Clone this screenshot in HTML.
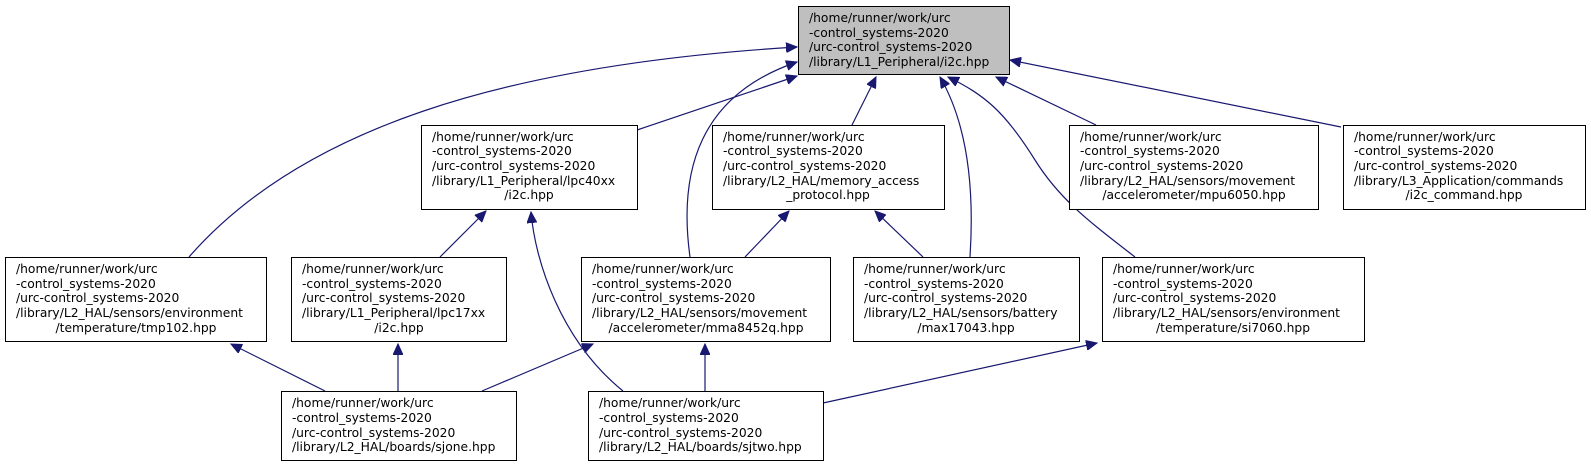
<!DOCTYPE html>
<html><head><meta charset="utf-8"><style>
html,body{margin:0;padding:0;background:#fff;}
svg{display:block;}
text{font-family:"DejaVu Sans","Liberation Sans",sans-serif;font-size:12.3px;fill:#000;}
rect{stroke:#000;stroke-width:1;fill:#fff;}
path{fill:none;stroke:#191970;stroke-width:1.2;}
</style></head><body>
<svg width="1591" height="467" viewBox="0 0 1591 467" xmlns="http://www.w3.org/2000/svg">
<defs>
<marker id="a" markerWidth="12" markerHeight="10" refX="11" refY="5" orient="auto" markerUnits="userSpaceOnUse">
<polygon points="0,0 11,5 0,10" fill="#191970" stroke="#191970"/>
</marker>
</defs>
<!-- edges -->
<g marker-end="url(#a)">
<path d="M189,257 C300,130 500,65 797,47"/>
<path d="M637,130 L797,76"/>
<path d="M690,257 C678,170 700,95 797,62"/>
<path d="M852,125 L876,77"/>
<path d="M970,257 C975,180 965,120 940,77"/>
<path d="M1135,257 C1090,222 1060,200 1035,160 C1005,112 985,95 948,77"/>
<path d="M1096,125 L996,77"/>
<path d="M1341,127 L1010,60"/>
<path d="M440,257 L486,211"/>
<path d="M623,391 C560,340 535,260 531,212"/>
<path d="M745,257 L789,211"/>
<path d="M923,257 L875,211"/>
<path d="M325,391 L231,344"/>
<path d="M398,391 L398,344"/>
<path d="M482,391 L593,344"/>
<path d="M705,391 L705,344"/>
<path d="M823,403 L1097,343"/>
</g>
<!-- root -->
<rect x="798.5" y="6.5" width="211" height="68" style="fill:#bfbfbf"/>
<text x="809" y="22">/home/runner/work/urc</text>
<text x="809" y="37">-control_systems-2020</text>
<text x="809" y="51">/urc-control_systems-2020</text>
<text x="809" y="66">/library/L1_Peripheral/i2c.hpp</text>
<!-- row 2 -->
<rect x="421.5" y="125.5" width="216" height="84"/>
<text x="432" y="141">/home/runner/work/urc</text>
<text x="432" y="155">-control_systems-2020</text>
<text x="432" y="170">/urc-control_systems-2020</text>
<text x="432" y="185">/library/L1_Peripheral/lpc40xx</text>
<text x="529" y="199" text-anchor="middle">/i2c.hpp</text>

<rect x="712.5" y="125.5" width="232" height="84"/>
<text x="723" y="141">/home/runner/work/urc</text>
<text x="723" y="155">-control_systems-2020</text>
<text x="723" y="170">/urc-control_systems-2020</text>
<text x="723" y="185">/library/L2_HAL/memory_access</text>
<text x="828" y="199" text-anchor="middle">_protocol.hpp</text>

<rect x="1069.5" y="125.5" width="249" height="84"/>
<text x="1080" y="141">/home/runner/work/urc</text>
<text x="1080" y="155">-control_systems-2020</text>
<text x="1080" y="170">/urc-control_systems-2020</text>
<text x="1080" y="185">/library/L2_HAL/sensors/movement</text>
<text x="1194" y="199" text-anchor="middle">/accelerometer/mpu6050.hpp</text>

<rect x="1343.5" y="125.5" width="242" height="84"/>
<text x="1354" y="141">/home/runner/work/urc</text>
<text x="1354" y="155">-control_systems-2020</text>
<text x="1354" y="170">/urc-control_systems-2020</text>
<text x="1354" y="185">/library/L3_Application/commands</text>
<text x="1464" y="199" text-anchor="middle">/i2c_command.hpp</text>
<!-- row 3 -->
<rect x="5.5" y="257.5" width="261" height="84"/>
<text x="16" y="273">/home/runner/work/urc</text>
<text x="16" y="288">-control_systems-2020</text>
<text x="16" y="302">/urc-control_systems-2020</text>
<text x="16" y="317">/library/L2_HAL/sensors/environment</text>
<text x="136" y="332" text-anchor="middle">/temperature/tmp102.hpp</text>

<rect x="291.5" y="257.5" width="215" height="84"/>
<text x="302" y="273">/home/runner/work/urc</text>
<text x="302" y="288">-control_systems-2020</text>
<text x="302" y="302">/urc-control_systems-2020</text>
<text x="302" y="317">/library/L1_Peripheral/lpc17xx</text>
<text x="399" y="332" text-anchor="middle">/i2c.hpp</text>

<rect x="581.5" y="257.5" width="249" height="84"/>
<text x="592" y="273">/home/runner/work/urc</text>
<text x="592" y="288">-control_systems-2020</text>
<text x="592" y="302">/urc-control_systems-2020</text>
<text x="592" y="317">/library/L2_HAL/sensors/movement</text>
<text x="706" y="332" text-anchor="middle">/accelerometer/mma8452q.hpp</text>

<rect x="853.5" y="257.5" width="226" height="84"/>
<text x="864" y="273">/home/runner/work/urc</text>
<text x="864" y="288">-control_systems-2020</text>
<text x="864" y="302">/urc-control_systems-2020</text>
<text x="864" y="317">/library/L2_HAL/sensors/battery</text>
<text x="966" y="332" text-anchor="middle">/max17043.hpp</text>

<rect x="1102.5" y="257.5" width="262" height="84"/>
<text x="1113" y="273">/home/runner/work/urc</text>
<text x="1113" y="288">-control_systems-2020</text>
<text x="1113" y="302">/urc-control_systems-2020</text>
<text x="1113" y="317">/library/L2_HAL/sensors/environment</text>
<text x="1233" y="332" text-anchor="middle">/temperature/si7060.hpp</text>
<!-- row 4 -->
<rect x="281.5" y="391.5" width="235" height="69"/>
<text x="292" y="407">/home/runner/work/urc</text>
<text x="292" y="422">-control_systems-2020</text>
<text x="292" y="437">/urc-control_systems-2020</text>
<text x="292" y="451">/library/L2_HAL/boards/sjone.hpp</text>

<rect x="588.5" y="391.5" width="235" height="69"/>
<text x="599" y="407">/home/runner/work/urc</text>
<text x="599" y="422">-control_systems-2020</text>
<text x="599" y="437">/urc-control_systems-2020</text>
<text x="599" y="451">/library/L2_HAL/boards/sjtwo.hpp</text>
</svg>
</body></html>
